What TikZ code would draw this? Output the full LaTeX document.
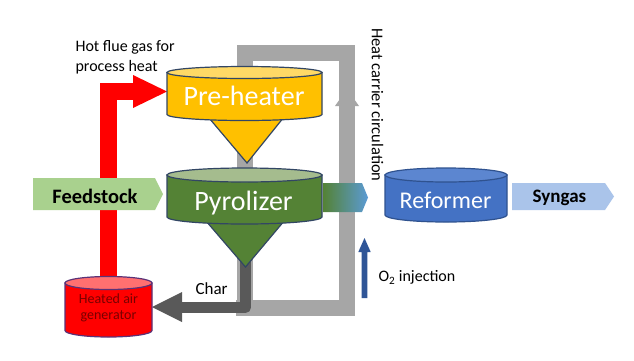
\documentclass[tikz,border=0pt]{standalone}
\usepackage{fontspec}
\setmainfont{Carlito}
\definecolor{lgray}{RGB}{166,166,166}
\definecolor{dgray}{RGB}{89,89,89}
\definecolor{phbody}{RGB}{255,192,0}
\definecolor{phtop}{RGB}{255,217,102}
\definecolor{pybody}{RGB}{84,130,53}
\definecolor{pytop}{RGB}{165,188,142}
\definecolor{rfbody}{RGB}{68,114,196}
\definecolor{rftop}{RGB}{92,134,208}
\definecolor{rfborder}{RGB}{47,82,143}
\definecolor{cylborder}{RGB}{50,70,100}
\definecolor{genbody}{RGB}{255,0,0}
\definecolor{gentop}{RGB}{255,112,112}
\definecolor{genborder}{RGB}{90,50,120}
\definecolor{gentext}{RGB}{120,0,0}
\definecolor{feedgreen}{RGB}{169,209,142}
\definecolor{synblue}{RGB}{170,196,234}
\definecolor{oxblue}{RGB}{47,85,151}
\definecolor{gradblue}{RGB}{91,155,213}
\newcommand\drawcyl[8]{% cx, ytop, ybot, rx, ry, body, top, border
  \filldraw[fill=#6,draw=#8,line width=1.2pt] ({#1-#4},#2) -- ({#1-#4},#3)
    arc[start angle=180,end angle=360,x radius=#4pt,y radius=#5pt] -- ({#1+#4},#2) -- cycle;
  \filldraw[fill=#7,draw=#8,line width=1.2pt] (#1,#2) ellipse[x radius=#4pt,y radius=#5pt];
}
\begin{document}
\begin{tikzpicture}[x=1pt,y=-1pt,line join=miter,
  heatband/.style={draw=lgray,line width=16pt,line cap=butt},
  charband/.style={draw=dgray,line width=11pt,line cap=butt,line join=round},
  flueband/.style={draw=red,line width=17pt,line cap=butt},
  bigtext/.style={text=white,font=\fontsize{28}{30}\selectfont,anchor=base},
  lbl/.style={text=black,font=\fontsize{16}{20}\selectfont}]
\useasboundingbox (0,0) rectangle (634,360);
\fill[white] (0,0) rectangle (634,360);

% heat carrier loop
\coordinate (loopA) at (245,300);
\coordinate (loopB) at (245,53);
\coordinate (loopC) at (347,53);
\coordinate (loopD) at (347,308);
\coordinate (loopE) at (236,308);
\draw[heatband] (loopA) -- (loopB) -- (loopC) -- (loopD) -- (loopE);
\fill[lgray] (335,106) -- (359,106) -- (347,89) -- cycle;

% char path
\coordinate (pyrtip) at (245.5,260);
\coordinate (charcorner) at (245.5,307.5);
\coordinate (charend) at (181,307.5);
\draw[charband] (pyrtip) -- (charcorner) -- (charend);
\fill[dgray] (182,292) -- (152,307) -- (182,322) -- cycle;

% flue gas path
\coordinate (genin) at (108.5,285);
\coordinate (fluecorner) at (108.5,91.5);
\coordinate (flueend) at (134,91.5);
\draw[flueband] (genin) -- (fluecorner) -- (flueend);
\fill[red] (133,75) -- (167,91.5) -- (133,108) -- cycle;

% pre-heater
\filldraw[fill=phbody,draw=cylborder,line width=1.2pt] (204,112) -- (288,112) -- (247,163) -- cycle;
\drawcyl{244.5}{72.5}{114.5}{77.5}{6}{phbody}{phtop}{cylborder}
\node[bigtext] (preheater) at (244,105) {Pre-heater};

% pyrolizer
\filldraw[fill=pybody,draw=cylborder,line width=1.2pt] (200,214) -- (290,214) -- (245.5,267) -- cycle;
\drawcyl{244.5}{175}{217}{77.5}{7}{pybody}{pytop}{cylborder}
\node[bigtext] (pyrolizer) at (243.5,210) {Pyrolizer};

% reformer
\drawcyl{446}{175}{215}{61}{7}{rfbody}{rftop}{rfborder}
\node[bigtext,font=\fontsize{24}{26}\selectfont] (reformer) at (445.5,208) {Reformer};

% heated air generator
\drawcyl{108.5}{283}{330.5}{43.5}{6.5}{genbody}{gentop}{genborder}
\node[text=gentext,font=\fontsize{14}{16.5}\selectfont,align=center] (gen) at (108.5,308) {Heated air\\generator};

% feedstock arrow
\fill[feedgreen] (33,178) -- (155,178) -- (163,194) -- (155,210) -- (33,210) -- cycle;
\node[font=\bfseries\fontsize{20.5}{22}\selectfont,anchor=base] (feed) at (95,203.3) {Feedstock};

% gradient arrow
\shade[left color=pybody,right color=gradblue] (323,183) -- (362,183) -- (368,197.5) -- (362,212) -- (323,212) -- cycle;

% syngas arrow
\fill[synblue] (512,183) -- (605,183) -- (614,196.5) -- (605,210) -- (512,210) -- cycle;
\node[font=\bfseries\fontsize{19}{21}\selectfont,anchor=base] (syngas) at (559.5,202.3) {Syngas};

% O2 arrow
\fill[oxblue] (361.7,298) -- (361.7,252) -- (358.3,252) -- (364.5,238) -- (370.7,252) -- (367.3,252) -- (367.3,298) -- cycle;
\node[lbl,anchor=base west] (o2) at (375,281.7) {O\textsubscript{2} injection};

% labels
\node[lbl,anchor=base west,align=left] (flue) at (72,51.7) {Hot flue gas for};
\node[lbl,anchor=base west] (flue2) at (72,71.7) {process heat};
\node[lbl,anchor=base west,font=\fontsize{17}{20}\selectfont] (char) at (192,294) {Char};
\node[lbl,rotate=-90,font=\fontsize{16.5}{20}\selectfont] (hcc) at (377.5,105) {Heat carrier circulation};
\end{tikzpicture}
\end{document}
